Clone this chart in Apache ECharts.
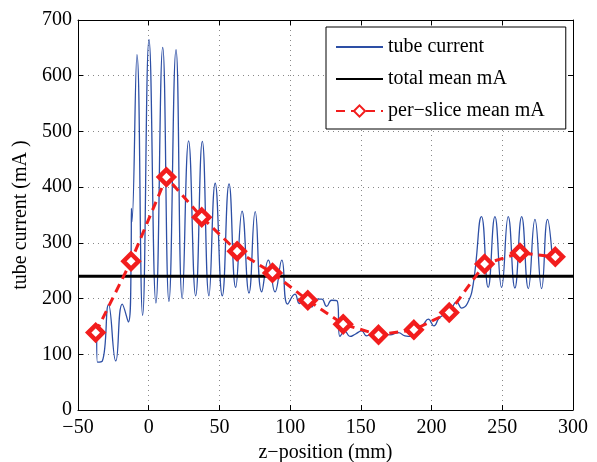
<!DOCTYPE html>
<html>
<head>
<meta charset="utf-8">
<script src="https://cdn.jsdelivr.net/npm/echarts@6/dist/echarts.min.js"></script>
<style>
  html, body { margin: 0; padding: 0; background: #fff; }
  #chart { width: 597px; height: 462px; }
</style>
</head>
<body>
<div id="chart"></div>
<script>
// tube current trace: [z (mm), mA]
const tubeCurrent = [
  [-36.8, 140], [-36.3, 86], [-32.8, 88], [-28.4, 189], [-23.3, 88], [-18.7, 190],
  [-14.4, 158], [-12.4, 290], [-12.2, 362], [-11.9, 338], [-8.3, 638], [-4.3, 170],
  [0.2, 665], [5.1, 192], [9.9, 651], [14.3, 195], [19.3, 647], [23.7, 200],
  [28.2, 483], [33.2, 205], [37.9, 482], [42.6, 205], [47, 407], [52, 205],
  [56.8, 406], [61.5, 220], [66, 357], [70.9, 210], [75.3, 356], [79.9, 212],
  [84.6, 269], [89.3, 212], [94.1, 269], [98.2, 190], [103.4, 208], [106.5, 191],
  [110.5, 206], [115.2, 185], [118.7, 199], [122.3, 199], [125.8, 186], [129.3, 197],
  [133.2, 196], [135.2, 132], [138.8, 141], [142.3, 132], [146, 136], [150.6, 142],
  [154, 133], [158.8, 138], [163.5, 135], [167, 137], [170.6, 135], [176.5, 139],
  [181.2, 133], [185.9, 132], [189.4, 141], [194.1, 153], [197.7, 163], [201.7, 151],
  [205.4, 165], [210.6, 174], [214.2, 183], [217.7, 194], [221.3, 183], [225.3, 191],
  [229.5, 227], [235.3, 347], [240, 220], [244.8, 347], [249.5, 220], [254.2, 347],
  [258.9, 219], [263.7, 347], [268.4, 218], [273.1, 342], [277.8, 218], [282, 342],
  [285, 285]
]
const sliceZ = [-37.5, -12.5, 12.5, 37.5, 62.5, 87.5, 112.5, 137.5, 162.5, 187.5, 212.5, 237.5, 262.5, 287.5]
const sliceMean = [139, 267, 418, 346, 285, 246, 197, 154, 135, 144, 175, 262, 282, 275]
const totalMean = 240
const xTicks = [-50, 300, 50] // min, max, step
const yTicks = [0, 700, 100]

const FONT = 'Liberation Serif'
const minusFmt = v => String(v).replace('-', '\u2212')

let myChart = echarts.init(document.getElementById('chart'), null, { renderer: 'canvas' })

const boxAxis = {
  axisLine: { show: true, onZero: false, lineStyle: { color: '#000', width: 1 } },
  axisTick: { show: true, inside: true, length: 5, lineStyle: { color: '#000' } },
}

let option = {
  backgroundColor: '#fff',
  animation: false,
  grid: { left: 78, right: 24, top: 20, bottom: 52, containLabel: false, outerBoundsMode: 'none' },
  legend: {
    orient: 'vertical',
    left: 326,
    top: 27,
    padding: [10, 21, 8, 9],
    itemWidth: 47,
    itemHeight: 14,
    itemGap: 12,
    borderColor: '#000',
    borderWidth: 1,
    backgroundColor: '#fff',
    textStyle: { fontFamily: FONT, fontSize: 20, color: '#000' },
    data: [
      { name: 'tube current', itemStyle: { opacity: 0 } },
      { name: 'total mean mA', itemStyle: { opacity: 0 } },
      { name: 'per\u2212slice mean mA' }
    ]
  },
  xAxis: [
    {
      type: 'value',
      min: xTicks[0], max: xTicks[1], interval: xTicks[2],
      name: 'z\u2212position (mm)',
      nameLocation: 'middle',
      nameGap: 32,
      nameTextStyle: { fontFamily: FONT, fontSize: 20, color: '#000' },
      ...boxAxis,
      axisLabel: { margin: 8, fontFamily: FONT, fontSize: 20, color: '#000', formatter: minusFmt },
      splitLine: { show: true, lineStyle: { color: '#888', type: [1, 4], width: 1 } }
    },
    {
      type: 'value', position: 'top',
      min: xTicks[0], max: xTicks[1], interval: xTicks[2],
      ...boxAxis,
      axisLabel: { show: false },
      splitLine: { show: false }
    }
  ],
  yAxis: [
    {
      type: 'value',
      min: yTicks[0], max: yTicks[1], interval: yTicks[2],
      name: 'tube current (mA )',
      nameLocation: 'middle',
      nameGap: 40,
      nameTextStyle: { fontFamily: FONT, fontSize: 20, color: '#000' },
      ...boxAxis,
      axisLabel: { margin: 6, fontFamily: FONT, fontSize: 20, color: '#000' },
      splitLine: { show: true, lineStyle: { color: '#888', type: [1, 4], width: 1 } }
    },
    {
      type: 'value', position: 'right',
      min: yTicks[0], max: yTicks[1], interval: yTicks[2],
      ...boxAxis,
      axisLabel: { show: false },
      splitLine: { show: false }
    }
  ],
  series: [
    {
      name: 'tube current',
      type: 'line',
      data: tubeCurrent,
      smooth: 0.5,
      symbol: 'none',
      lineStyle: { color: '#2d4fa5', width: 1.3 },
      itemStyle: { color: '#2d4fa5' },
      z: 2
    },
    {
      name: 'total mean mA',
      type: 'line',
      data: [[xTicks[0], totalMean], [xTicks[1], totalMean]],
      symbol: 'none',
      lineStyle: { color: '#000', width: 3 },
      itemStyle: { color: '#000' },
      z: 3
    },
    {
      name: 'per\u2212slice mean mA',
      type: 'line',
      data: sliceZ.map((z, i) => [z, sliceMean[i]]),
      symbol: 'diamond',
      symbolSize: 15,
      showSymbol: true,
      lineStyle: { color: '#f21d1d', width: 3, type: [9, 6] },
      itemStyle: { color: '#fff', borderColor: '#f21d1d', borderWidth: 4.5 },
      z: 4
    }
  ]
}

myChart.setOption(option)
</script>
</body>
</html>
